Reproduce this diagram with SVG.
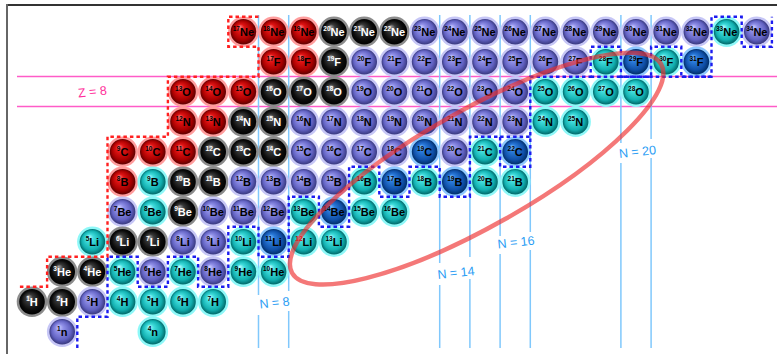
<svg xmlns="http://www.w3.org/2000/svg" width="777" height="354" viewBox="0 0 777 354">
<defs>
<style>
text{font-family:"Liberation Sans",Arial,sans-serif;font-weight:bold;font-size:11px;text-anchor:middle}
.m{font-size:6.5px}
.d{fill:#000}
.w{fill:#fff}
.nl{stroke:#80c8fc;stroke-width:1.5;fill:none}
.zl{stroke:#ff5cc8;stroke-width:1.3;fill:none}
.lab{font-family:"Liberation Sans",Arial,sans-serif;font-weight:normal;font-size:12.5px}
</style>
<radialGradient id="gr" cx="0.5" cy="0.5" r="0.5" fx="0.35" fy="0.3"><stop offset="0" stop-color="#ff8a8a"/><stop offset="0.3" stop-color="#e01414"/><stop offset="0.75" stop-color="#a80000"/><stop offset="1" stop-color="#5e0000"/></radialGradient>
<radialGradient id="gk" cx="0.5" cy="0.5" r="0.5" fx="0.35" fy="0.3"><stop offset="0" stop-color="#a8a8a8"/><stop offset="0.3" stop-color="#383838"/><stop offset="0.75" stop-color="#0c0c0c"/><stop offset="1" stop-color="#000"/></radialGradient>
<radialGradient id="gp" cx="0.5" cy="0.5" r="0.5" fx="0.35" fy="0.3"><stop offset="0" stop-color="#d0d0ff"/><stop offset="0.3" stop-color="#9090e8"/><stop offset="0.75" stop-color="#6262c2"/><stop offset="1" stop-color="#38387e"/></radialGradient>
<radialGradient id="gc" cx="0.5" cy="0.5" r="0.5" fx="0.35" fy="0.3"><stop offset="0" stop-color="#c0ffff"/><stop offset="0.3" stop-color="#40dcdc"/><stop offset="0.75" stop-color="#12b0b0"/><stop offset="1" stop-color="#006868"/></radialGradient>
<radialGradient id="gb" cx="0.5" cy="0.5" r="0.5" fx="0.35" fy="0.3"><stop offset="0" stop-color="#88c4ff"/><stop offset="0.3" stop-color="#2a7ada"/><stop offset="0.75" stop-color="#1050a8"/><stop offset="1" stop-color="#002e68"/></radialGradient>
<g id="ball-r"><circle r="15.3" fill="#ff9c9c"/><circle r="12.8" fill="url(#gr)"/></g>
<g id="ball-k"><circle r="15.3" fill="#8c8c8c"/><circle r="12.8" fill="url(#gk)"/></g>
<g id="ball-p"><circle r="15.3" fill="#c6c6f6"/><circle r="12.8" fill="url(#gp)"/></g>
<g id="ball-c"><circle r="15.3" fill="#8ef8f8"/><circle r="12.8" fill="url(#gc)"/></g>
<g id="ball-b"><circle r="15.3" fill="#8ec8ff"/><circle r="12.8" fill="url(#gb)"/></g>
</defs>
<rect width="777" height="354" fill="#fff"/>
<g id="frame">
<line x1="6" y1="5" x2="777" y2="5" stroke="#333" stroke-width="2"/>
<line x1="7" y1="4" x2="7" y2="354" stroke="#666" stroke-width="2"/>
</g>
<g id="magic-lines">
<line class="zl" x1="17" y1="76.5" x2="777" y2="76.5"/>
<line class="zl" x1="17" y1="106.5" x2="777" y2="106.5"/>
<path class="nl" d="M258.5 15V295M258.5 315V348M288.7 15V291M288.7 311V348M439.7 15V263M439.7 285V348M469.9 15V257M469.9 279V348M500.1 15V236M500.1 254V348M530.3 15V232M530.3 250V348M620.9 15V143M620.9 163V348M651.1 15V139M651.1 158V348"/>
</g>
<g id="nuclides">
<g id="Ne-17" transform="translate(243.4 31.7)"><use href="#ball-r"/><text class="d" y="4"><tspan class="m" dy="-4.5">17</tspan><tspan dy="4.5">Ne</tspan></text></g>
<g id="Ne-18" transform="translate(273.6 31.7)"><use href="#ball-r"/><text class="d" y="4"><tspan class="m" dy="-4.5">18</tspan><tspan dy="4.5">Ne</tspan></text></g>
<g id="Ne-19" transform="translate(303.8 31.7)"><use href="#ball-r"/><text class="d" y="4"><tspan class="m" dy="-4.5">19</tspan><tspan dy="4.5">Ne</tspan></text></g>
<g id="Ne-20" transform="translate(334 31.7)"><use href="#ball-k"/><text class="w" y="4"><tspan class="m" dy="-4.5">20</tspan><tspan dy="4.5">Ne</tspan></text></g>
<g id="Ne-21" transform="translate(364.2 31.7)"><use href="#ball-k"/><text class="w" y="4"><tspan class="m" dy="-4.5">21</tspan><tspan dy="4.5">Ne</tspan></text></g>
<g id="Ne-22" transform="translate(394.4 31.7)"><use href="#ball-k"/><text class="w" y="4"><tspan class="m" dy="-4.5">22</tspan><tspan dy="4.5">Ne</tspan></text></g>
<g id="Ne-23" transform="translate(424.6 31.7)"><use href="#ball-p"/><text class="d" y="4"><tspan class="m" dy="-4.5">23</tspan><tspan dy="4.5">Ne</tspan></text></g>
<g id="Ne-24" transform="translate(454.8 31.7)"><use href="#ball-p"/><text class="d" y="4"><tspan class="m" dy="-4.5">24</tspan><tspan dy="4.5">Ne</tspan></text></g>
<g id="Ne-25" transform="translate(485 31.7)"><use href="#ball-p"/><text class="d" y="4"><tspan class="m" dy="-4.5">25</tspan><tspan dy="4.5">Ne</tspan></text></g>
<g id="Ne-26" transform="translate(515.2 31.7)"><use href="#ball-p"/><text class="d" y="4"><tspan class="m" dy="-4.5">26</tspan><tspan dy="4.5">Ne</tspan></text></g>
<g id="Ne-27" transform="translate(545.4 31.7)"><use href="#ball-p"/><text class="d" y="4"><tspan class="m" dy="-4.5">27</tspan><tspan dy="4.5">Ne</tspan></text></g>
<g id="Ne-28" transform="translate(575.6 31.7)"><use href="#ball-p"/><text class="d" y="4"><tspan class="m" dy="-4.5">28</tspan><tspan dy="4.5">Ne</tspan></text></g>
<g id="Ne-29" transform="translate(605.8 31.7)"><use href="#ball-p"/><text class="d" y="4"><tspan class="m" dy="-4.5">29</tspan><tspan dy="4.5">Ne</tspan></text></g>
<g id="Ne-30" transform="translate(636 31.7)"><use href="#ball-p"/><text class="d" y="4"><tspan class="m" dy="-4.5">30</tspan><tspan dy="4.5">Ne</tspan></text></g>
<g id="Ne-31" transform="translate(666.2 31.7)"><use href="#ball-p"/><text class="d" y="4"><tspan class="m" dy="-4.5">31</tspan><tspan dy="4.5">Ne</tspan></text></g>
<g id="Ne-32" transform="translate(696.4 31.7)"><use href="#ball-p"/><text class="d" y="4"><tspan class="m" dy="-4.5">32</tspan><tspan dy="4.5">Ne</tspan></text></g>
<g id="Ne-33" transform="translate(726.6 31.7)"><use href="#ball-c"/><text class="d" y="4"><tspan class="m" dy="-4.5">33</tspan><tspan dy="4.5">Ne</tspan></text></g>
<g id="Ne-34" transform="translate(756.8 31.7)"><use href="#ball-p"/><text class="d" y="4"><tspan class="m" dy="-4.5">34</tspan><tspan dy="4.5">Ne</tspan></text></g>

<g id="F-17" transform="translate(273.6 61.7)"><use href="#ball-r"/><text class="d" y="4"><tspan class="m" dy="-4.5">17</tspan><tspan dy="4.5">F</tspan></text></g>
<g id="F-18" transform="translate(303.8 61.7)"><use href="#ball-r"/><text class="d" y="4"><tspan class="m" dy="-4.5">18</tspan><tspan dy="4.5">F</tspan></text></g>
<g id="F-19" transform="translate(334 61.7)"><use href="#ball-k"/><text class="w" y="4"><tspan class="m" dy="-4.5">19</tspan><tspan dy="4.5">F</tspan></text></g>
<g id="F-20" transform="translate(364.2 61.7)"><use href="#ball-p"/><text class="d" y="4"><tspan class="m" dy="-4.5">20</tspan><tspan dy="4.5">F</tspan></text></g>
<g id="F-21" transform="translate(394.4 61.7)"><use href="#ball-p"/><text class="d" y="4"><tspan class="m" dy="-4.5">21</tspan><tspan dy="4.5">F</tspan></text></g>
<g id="F-22" transform="translate(424.6 61.7)"><use href="#ball-p"/><text class="d" y="4"><tspan class="m" dy="-4.5">22</tspan><tspan dy="4.5">F</tspan></text></g>
<g id="F-23" transform="translate(454.8 61.7)"><use href="#ball-p"/><text class="d" y="4"><tspan class="m" dy="-4.5">23</tspan><tspan dy="4.5">F</tspan></text></g>
<g id="F-24" transform="translate(485 61.7)"><use href="#ball-p"/><text class="d" y="4"><tspan class="m" dy="-4.5">24</tspan><tspan dy="4.5">F</tspan></text></g>
<g id="F-25" transform="translate(515.2 61.7)"><use href="#ball-p"/><text class="d" y="4"><tspan class="m" dy="-4.5">25</tspan><tspan dy="4.5">F</tspan></text></g>
<g id="F-26" transform="translate(545.4 61.7)"><use href="#ball-p"/><text class="d" y="4"><tspan class="m" dy="-4.5">26</tspan><tspan dy="4.5">F</tspan></text></g>
<g id="F-27" transform="translate(575.6 61.7)"><use href="#ball-p"/><text class="d" y="4"><tspan class="m" dy="-4.5">27</tspan><tspan dy="4.5">F</tspan></text></g>
<g id="F-28" transform="translate(605.8 61.7)"><use href="#ball-c"/><text class="d" y="4"><tspan class="m" dy="-4.5">28</tspan><tspan dy="4.5">F</tspan></text></g>
<g id="F-29" transform="translate(636 61.7)"><use href="#ball-b"/><text class="d" y="4"><tspan class="m" dy="-4.5">29</tspan><tspan dy="4.5">F</tspan></text></g>
<g id="F-30" transform="translate(666.2 61.7)"><use href="#ball-c"/><text class="d" y="4"><tspan class="m" dy="-4.5">30</tspan><tspan dy="4.5">F</tspan></text></g>
<g id="F-31" transform="translate(696.4 61.7)"><use href="#ball-b"/><text class="d" y="4"><tspan class="m" dy="-4.5">31</tspan><tspan dy="4.5">F</tspan></text></g>

<g id="O-13" transform="translate(183 91.7)"><use href="#ball-r"/><text class="d" y="4"><tspan class="m" dy="-4.5">13</tspan><tspan dy="4.5">O</tspan></text></g>
<g id="O-14" transform="translate(213.2 91.7)"><use href="#ball-r"/><text class="d" y="4"><tspan class="m" dy="-4.5">14</tspan><tspan dy="4.5">O</tspan></text></g>
<g id="O-15" transform="translate(243.4 91.7)"><use href="#ball-r"/><text class="d" y="4"><tspan class="m" dy="-4.5">15</tspan><tspan dy="4.5">O</tspan></text></g>
<g id="O-16" transform="translate(273.6 91.7)"><use href="#ball-k"/><text class="w" y="4"><tspan class="m" dy="-4.5">16</tspan><tspan dy="4.5">O</tspan></text></g>
<g id="O-17" transform="translate(303.8 91.7)"><use href="#ball-k"/><text class="w" y="4"><tspan class="m" dy="-4.5">17</tspan><tspan dy="4.5">O</tspan></text></g>
<g id="O-18" transform="translate(334 91.7)"><use href="#ball-k"/><text class="w" y="4"><tspan class="m" dy="-4.5">18</tspan><tspan dy="4.5">O</tspan></text></g>
<g id="O-19" transform="translate(364.2 91.7)"><use href="#ball-p"/><text class="d" y="4"><tspan class="m" dy="-4.5">19</tspan><tspan dy="4.5">O</tspan></text></g>
<g id="O-20" transform="translate(394.4 91.7)"><use href="#ball-p"/><text class="d" y="4"><tspan class="m" dy="-4.5">20</tspan><tspan dy="4.5">O</tspan></text></g>
<g id="O-21" transform="translate(424.6 91.7)"><use href="#ball-p"/><text class="d" y="4"><tspan class="m" dy="-4.5">21</tspan><tspan dy="4.5">O</tspan></text></g>
<g id="O-22" transform="translate(454.8 91.7)"><use href="#ball-p"/><text class="d" y="4"><tspan class="m" dy="-4.5">22</tspan><tspan dy="4.5">O</tspan></text></g>
<g id="O-23" transform="translate(485 91.7)"><use href="#ball-p"/><text class="d" y="4"><tspan class="m" dy="-4.5">23</tspan><tspan dy="4.5">O</tspan></text></g>
<g id="O-24" transform="translate(515.2 91.7)"><use href="#ball-p"/><text class="d" y="4"><tspan class="m" dy="-4.5">24</tspan><tspan dy="4.5">O</tspan></text></g>
<g id="O-25" transform="translate(545.4 91.7)"><use href="#ball-c"/><text class="d" y="4"><tspan class="m" dy="-4.5">25</tspan><tspan dy="4.5">O</tspan></text></g>
<g id="O-26" transform="translate(575.6 91.7)"><use href="#ball-c"/><text class="d" y="4"><tspan class="m" dy="-4.5">26</tspan><tspan dy="4.5">O</tspan></text></g>
<g id="O-27" transform="translate(605.8 91.7)"><use href="#ball-c"/><text class="d" y="4"><tspan class="m" dy="-4.5">27</tspan><tspan dy="4.5">O</tspan></text></g>
<g id="O-28" transform="translate(636 91.7)"><use href="#ball-c"/><text class="d" y="4"><tspan class="m" dy="-4.5">28</tspan><tspan dy="4.5">O</tspan></text></g>

<g id="N-12" transform="translate(183 121.7)"><use href="#ball-r"/><text class="d" y="4"><tspan class="m" dy="-4.5">12</tspan><tspan dy="4.5">N</tspan></text></g>
<g id="N-13" transform="translate(213.2 121.7)"><use href="#ball-r"/><text class="d" y="4"><tspan class="m" dy="-4.5">13</tspan><tspan dy="4.5">N</tspan></text></g>
<g id="N-14" transform="translate(243.4 121.7)"><use href="#ball-k"/><text class="w" y="4"><tspan class="m" dy="-4.5">14</tspan><tspan dy="4.5">N</tspan></text></g>
<g id="N-15" transform="translate(273.6 121.7)"><use href="#ball-k"/><text class="w" y="4"><tspan class="m" dy="-4.5">15</tspan><tspan dy="4.5">N</tspan></text></g>
<g id="N-16" transform="translate(303.8 121.7)"><use href="#ball-p"/><text class="d" y="4"><tspan class="m" dy="-4.5">16</tspan><tspan dy="4.5">N</tspan></text></g>
<g id="N-17" transform="translate(334 121.7)"><use href="#ball-p"/><text class="d" y="4"><tspan class="m" dy="-4.5">17</tspan><tspan dy="4.5">N</tspan></text></g>
<g id="N-18" transform="translate(364.2 121.7)"><use href="#ball-p"/><text class="d" y="4"><tspan class="m" dy="-4.5">18</tspan><tspan dy="4.5">N</tspan></text></g>
<g id="N-19" transform="translate(394.4 121.7)"><use href="#ball-p"/><text class="d" y="4"><tspan class="m" dy="-4.5">19</tspan><tspan dy="4.5">N</tspan></text></g>
<g id="N-20" transform="translate(424.6 121.7)"><use href="#ball-p"/><text class="d" y="4"><tspan class="m" dy="-4.5">20</tspan><tspan dy="4.5">N</tspan></text></g>
<g id="N-21" transform="translate(454.8 121.7)"><use href="#ball-p"/><text class="d" y="4"><tspan class="m" dy="-4.5">21</tspan><tspan dy="4.5">N</tspan></text></g>
<g id="N-22" transform="translate(485 121.7)"><use href="#ball-p"/><text class="d" y="4"><tspan class="m" dy="-4.5">22</tspan><tspan dy="4.5">N</tspan></text></g>
<g id="N-23" transform="translate(515.2 121.7)"><use href="#ball-p"/><text class="d" y="4"><tspan class="m" dy="-4.5">23</tspan><tspan dy="4.5">N</tspan></text></g>
<g id="N-24" transform="translate(545.4 121.7)"><use href="#ball-c"/><text class="d" y="4"><tspan class="m" dy="-4.5">24</tspan><tspan dy="4.5">N</tspan></text></g>
<g id="N-25" transform="translate(575.6 121.7)"><use href="#ball-c"/><text class="d" y="4"><tspan class="m" dy="-4.5">25</tspan><tspan dy="4.5">N</tspan></text></g>

<g id="C-9" transform="translate(122.6 151.7)"><use href="#ball-r"/><text class="d" y="4"><tspan class="m" dy="-4.5">9</tspan><tspan dy="4.5">C</tspan></text></g>
<g id="C-10" transform="translate(152.8 151.7)"><use href="#ball-r"/><text class="d" y="4"><tspan class="m" dy="-4.5">10</tspan><tspan dy="4.5">C</tspan></text></g>
<g id="C-11" transform="translate(183 151.7)"><use href="#ball-r"/><text class="d" y="4"><tspan class="m" dy="-4.5">11</tspan><tspan dy="4.5">C</tspan></text></g>
<g id="C-12" transform="translate(213.2 151.7)"><use href="#ball-k"/><text class="w" y="4"><tspan class="m" dy="-4.5">12</tspan><tspan dy="4.5">C</tspan></text></g>
<g id="C-13" transform="translate(243.4 151.7)"><use href="#ball-k"/><text class="w" y="4"><tspan class="m" dy="-4.5">13</tspan><tspan dy="4.5">C</tspan></text></g>
<g id="C-14" transform="translate(273.6 151.7)"><use href="#ball-k"/><text class="w" y="4"><tspan class="m" dy="-4.5">14</tspan><tspan dy="4.5">C</tspan></text></g>
<g id="C-15" transform="translate(303.8 151.7)"><use href="#ball-p"/><text class="d" y="4"><tspan class="m" dy="-4.5">15</tspan><tspan dy="4.5">C</tspan></text></g>
<g id="C-16" transform="translate(334 151.7)"><use href="#ball-p"/><text class="d" y="4"><tspan class="m" dy="-4.5">16</tspan><tspan dy="4.5">C</tspan></text></g>
<g id="C-17" transform="translate(364.2 151.7)"><use href="#ball-p"/><text class="d" y="4"><tspan class="m" dy="-4.5">17</tspan><tspan dy="4.5">C</tspan></text></g>
<g id="C-18" transform="translate(394.4 151.7)"><use href="#ball-p"/><text class="d" y="4"><tspan class="m" dy="-4.5">18</tspan><tspan dy="4.5">C</tspan></text></g>
<g id="C-19" transform="translate(424.6 151.7)"><use href="#ball-b"/><text class="d" y="4"><tspan class="m" dy="-4.5">19</tspan><tspan dy="4.5">C</tspan></text></g>
<g id="C-20" transform="translate(454.8 151.7)"><use href="#ball-p"/><text class="d" y="4"><tspan class="m" dy="-4.5">20</tspan><tspan dy="4.5">C</tspan></text></g>
<g id="C-21" transform="translate(485 151.7)"><use href="#ball-c"/><text class="d" y="4"><tspan class="m" dy="-4.5">21</tspan><tspan dy="4.5">C</tspan></text></g>
<g id="C-22" transform="translate(515.2 151.7)"><use href="#ball-b"/><text class="d" y="4"><tspan class="m" dy="-4.5">22</tspan><tspan dy="4.5">C</tspan></text></g>

<g id="B-8" transform="translate(122.6 181.7)"><use href="#ball-r"/><text class="d" y="4"><tspan class="m" dy="-4.5">8</tspan><tspan dy="4.5">B</tspan></text></g>
<g id="B-9" transform="translate(152.8 181.7)"><use href="#ball-c"/><text class="d" y="4"><tspan class="m" dy="-4.5">9</tspan><tspan dy="4.5">B</tspan></text></g>
<g id="B-10" transform="translate(183 181.7)"><use href="#ball-k"/><text class="w" y="4"><tspan class="m" dy="-4.5">10</tspan><tspan dy="4.5">B</tspan></text></g>
<g id="B-11" transform="translate(213.2 181.7)"><use href="#ball-k"/><text class="w" y="4"><tspan class="m" dy="-4.5">11</tspan><tspan dy="4.5">B</tspan></text></g>
<g id="B-12" transform="translate(243.4 181.7)"><use href="#ball-p"/><text class="d" y="4"><tspan class="m" dy="-4.5">12</tspan><tspan dy="4.5">B</tspan></text></g>
<g id="B-13" transform="translate(273.6 181.7)"><use href="#ball-p"/><text class="d" y="4"><tspan class="m" dy="-4.5">13</tspan><tspan dy="4.5">B</tspan></text></g>
<g id="B-14" transform="translate(303.8 181.7)"><use href="#ball-p"/><text class="d" y="4"><tspan class="m" dy="-4.5">14</tspan><tspan dy="4.5">B</tspan></text></g>
<g id="B-15" transform="translate(334 181.7)"><use href="#ball-p"/><text class="d" y="4"><tspan class="m" dy="-4.5">15</tspan><tspan dy="4.5">B</tspan></text></g>
<g id="B-16" transform="translate(364.2 181.7)"><use href="#ball-c"/><text class="d" y="4"><tspan class="m" dy="-4.5">16</tspan><tspan dy="4.5">B</tspan></text></g>
<g id="B-17" transform="translate(394.4 181.7)"><use href="#ball-b"/><text class="d" y="4"><tspan class="m" dy="-4.5">17</tspan><tspan dy="4.5">B</tspan></text></g>
<g id="B-18" transform="translate(424.6 181.7)"><use href="#ball-c"/><text class="d" y="4"><tspan class="m" dy="-4.5">18</tspan><tspan dy="4.5">B</tspan></text></g>
<g id="B-19" transform="translate(454.8 181.7)"><use href="#ball-b"/><text class="d" y="4"><tspan class="m" dy="-4.5">19</tspan><tspan dy="4.5">B</tspan></text></g>
<g id="B-20" transform="translate(485 181.7)"><use href="#ball-c"/><text class="d" y="4"><tspan class="m" dy="-4.5">20</tspan><tspan dy="4.5">B</tspan></text></g>
<g id="B-21" transform="translate(515.2 181.7)"><use href="#ball-c"/><text class="d" y="4"><tspan class="m" dy="-4.5">21</tspan><tspan dy="4.5">B</tspan></text></g>

<g id="Be-7" transform="translate(122.6 211.7)"><use href="#ball-p"/><text class="d" y="4"><tspan class="m" dy="-4.5">7</tspan><tspan dy="4.5">Be</tspan></text></g>
<g id="Be-8" transform="translate(152.8 211.7)"><use href="#ball-c"/><text class="d" y="4"><tspan class="m" dy="-4.5">8</tspan><tspan dy="4.5">Be</tspan></text></g>
<g id="Be-9" transform="translate(183 211.7)"><use href="#ball-k"/><text class="w" y="4"><tspan class="m" dy="-4.5">9</tspan><tspan dy="4.5">Be</tspan></text></g>
<g id="Be-10" transform="translate(213.2 211.7)"><use href="#ball-p"/><text class="d" y="4"><tspan class="m" dy="-4.5">10</tspan><tspan dy="4.5">Be</tspan></text></g>
<g id="Be-11" transform="translate(243.4 211.7)"><use href="#ball-p"/><text class="d" y="4"><tspan class="m" dy="-4.5">11</tspan><tspan dy="4.5">Be</tspan></text></g>
<g id="Be-12" transform="translate(273.6 211.7)"><use href="#ball-p"/><text class="d" y="4"><tspan class="m" dy="-4.5">12</tspan><tspan dy="4.5">Be</tspan></text></g>
<g id="Be-13" transform="translate(303.8 211.7)"><use href="#ball-c"/><text class="d" y="4"><tspan class="m" dy="-4.5">13</tspan><tspan dy="4.5">Be</tspan></text></g>
<g id="Be-14" transform="translate(334 211.7)"><use href="#ball-b"/><text class="d" y="4"><tspan class="m" dy="-4.5">14</tspan><tspan dy="4.5">Be</tspan></text></g>
<g id="Be-15" transform="translate(364.2 211.7)"><use href="#ball-c"/><text class="d" y="4"><tspan class="m" dy="-4.5">15</tspan><tspan dy="4.5">Be</tspan></text></g>
<g id="Be-16" transform="translate(394.4 211.7)"><use href="#ball-c"/><text class="d" y="4"><tspan class="m" dy="-4.5">16</tspan><tspan dy="4.5">Be</tspan></text></g>

<g id="Li-5" transform="translate(92.4 241.7)"><use href="#ball-c"/><text class="d" y="4"><tspan class="m" dy="-4.5">5</tspan><tspan dy="4.5">Li</tspan></text></g>
<g id="Li-6" transform="translate(122.6 241.7)"><use href="#ball-k"/><text class="w" y="4"><tspan class="m" dy="-4.5">6</tspan><tspan dy="4.5">Li</tspan></text></g>
<g id="Li-7" transform="translate(152.8 241.7)"><use href="#ball-k"/><text class="w" y="4"><tspan class="m" dy="-4.5">7</tspan><tspan dy="4.5">Li</tspan></text></g>
<g id="Li-8" transform="translate(183 241.7)"><use href="#ball-p"/><text class="d" y="4"><tspan class="m" dy="-4.5">8</tspan><tspan dy="4.5">Li</tspan></text></g>
<g id="Li-9" transform="translate(213.2 241.7)"><use href="#ball-p"/><text class="d" y="4"><tspan class="m" dy="-4.5">9</tspan><tspan dy="4.5">Li</tspan></text></g>
<g id="Li-10" transform="translate(243.4 241.7)"><use href="#ball-c"/><text class="d" y="4"><tspan class="m" dy="-4.5">10</tspan><tspan dy="4.5">Li</tspan></text></g>
<g id="Li-11" transform="translate(273.6 241.7)"><use href="#ball-b"/><text class="d" y="4"><tspan class="m" dy="-4.5">11</tspan><tspan dy="4.5">Li</tspan></text></g>
<g id="Li-12" transform="translate(303.8 241.7)"><use href="#ball-c"/><text class="d" y="4"><tspan class="m" dy="-4.5" fill="#c00000">12</tspan><tspan dy="4.5">Li</tspan></text></g>
<g id="Li-13" transform="translate(334 241.7)"><use href="#ball-c"/><text class="d" y="4"><tspan class="m" dy="-4.5">13</tspan><tspan dy="4.5">Li</tspan></text></g>

<g id="He-3" transform="translate(62.2 271.7)"><use href="#ball-k"/><text class="w" y="4"><tspan class="m" dy="-4.5">3</tspan><tspan dy="4.5">He</tspan></text></g>
<g id="He-4" transform="translate(92.4 271.7)"><use href="#ball-k"/><text class="w" y="4"><tspan class="m" dy="-4.5">4</tspan><tspan dy="4.5">He</tspan></text></g>
<g id="He-5" transform="translate(122.6 271.7)"><use href="#ball-c"/><text class="d" y="4"><tspan class="m" dy="-4.5">5</tspan><tspan dy="4.5">He</tspan></text></g>
<g id="He-6" transform="translate(152.8 271.7)"><use href="#ball-p"/><text class="d" y="4"><tspan class="m" dy="-4.5">6</tspan><tspan dy="4.5">He</tspan></text></g>
<g id="He-7" transform="translate(183 271.7)"><use href="#ball-c"/><text class="d" y="4"><tspan class="m" dy="-4.5">7</tspan><tspan dy="4.5">He</tspan></text></g>
<g id="He-8" transform="translate(213.2 271.7)"><use href="#ball-p"/><text class="d" y="4"><tspan class="m" dy="-4.5">8</tspan><tspan dy="4.5">He</tspan></text></g>
<g id="He-9" transform="translate(243.4 271.7)"><use href="#ball-c"/><text class="d" y="4"><tspan class="m" dy="-4.5">9</tspan><tspan dy="4.5">He</tspan></text></g>
<g id="He-10" transform="translate(273.6 271.7)"><use href="#ball-c"/><text class="d" y="4"><tspan class="m" dy="-4.5">10</tspan><tspan dy="4.5">He</tspan></text></g>

<g id="H-1" transform="translate(32 301.7)"><use href="#ball-k"/><text class="w" y="4"><tspan class="m" dy="-4.5">1</tspan><tspan dy="4.5">H</tspan></text></g>
<g id="H-2" transform="translate(62.2 301.7)"><use href="#ball-k"/><text class="w" y="4"><tspan class="m" dy="-4.5">2</tspan><tspan dy="4.5">H</tspan></text></g>
<g id="H-3" transform="translate(92.4 301.7)"><use href="#ball-p"/><text class="d" y="4"><tspan class="m" dy="-4.5">3</tspan><tspan dy="4.5">H</tspan></text></g>
<g id="H-4" transform="translate(122.6 301.7)"><use href="#ball-c"/><text class="d" y="4"><tspan class="m" dy="-4.5">4</tspan><tspan dy="4.5">H</tspan></text></g>
<g id="H-5" transform="translate(152.8 301.7)"><use href="#ball-c"/><text class="d" y="4"><tspan class="m" dy="-4.5">5</tspan><tspan dy="4.5">H</tspan></text></g>
<g id="H-6" transform="translate(183 301.7)"><use href="#ball-c"/><text class="d" y="4"><tspan class="m" dy="-4.5">6</tspan><tspan dy="4.5">H</tspan></text></g>
<g id="H-7" transform="translate(213.2 301.7)"><use href="#ball-c"/><text class="d" y="4"><tspan class="m" dy="-4.5">7</tspan><tspan dy="4.5">H</tspan></text></g>

<g id="n-1" transform="translate(62.2 331.7)"><use href="#ball-p"/><text class="d" y="4"><tspan class="m" dy="-4.5">1</tspan><tspan dy="4.5">n</tspan></text></g>
<g id="n-4" transform="translate(152.8 331.7)"><use href="#ball-c"/><text class="d" y="4"><tspan class="m" dy="-4.5">4</tspan><tspan dy="4.5">n</tspan></text></g>
</g>
<g id="connectors" fill="none">
<path id="proton-boundary" stroke="#ff2020" stroke-width="2.4" stroke-dasharray="3.5 3" d="M258.5 16.7H228.3V46.7H258.5V76.7H167.9V136.7H107.5V256.7H47.1V286.7H16.9"/>
<path id="neutron-boundary" stroke="#1c1cf0" stroke-width="2.4" stroke-dasharray="3.5 3" d="M77.3 348V316.7H107.5V256.7H137.7V286.7H167.9V256.7H198.1V286.7H228.3V226.7H258.5V256.7H288.7V196.7H318.9V226.7H349.1V166.7H379.3V196.7H409.5V166.7H439.7V196.7H469.9V136.7H500.1V166.7H530.3V76.7H590.7V46.7H620.9V76.7H651.1V46.7H681.3V76.7H711.5V16.7H741.7V46.7H771.9V16.7"/>
<path stroke="#1c1cf0" stroke-width="2.4" stroke-dasharray="3.5 3" d="M500.1 136.7H530.3M590.7 76.7H711.5"/>
<ellipse id="halo-region" cx="476.6" cy="168.6" rx="212" ry="58" transform="rotate(-29.5 476.6 168.6)" stroke="#ee3030" stroke-opacity="0.65" stroke-width="4.5"/>
</g>
<g id="labels" class="lab">
<text class="lab" x="92.5" y="96" fill="#ff2e9a" transform="rotate(-6 92.5 92)">Z = 8</text>
<text class="lab" x="274.5" y="307" fill="#2a9df4" transform="rotate(-6 274.5 303)">N = 8</text>
<text class="lab" x="456" y="277" fill="#2a9df4" transform="rotate(-6 456 273)">N = 14</text>
<text class="lab" x="516" y="246.5" fill="#2a9df4" transform="rotate(-6 516 242)">N = 16</text>
<text class="lab" x="637.5" y="156" fill="#2a9df4" transform="rotate(-6 637.5 152)">N = 20</text>
</g>
</svg>
